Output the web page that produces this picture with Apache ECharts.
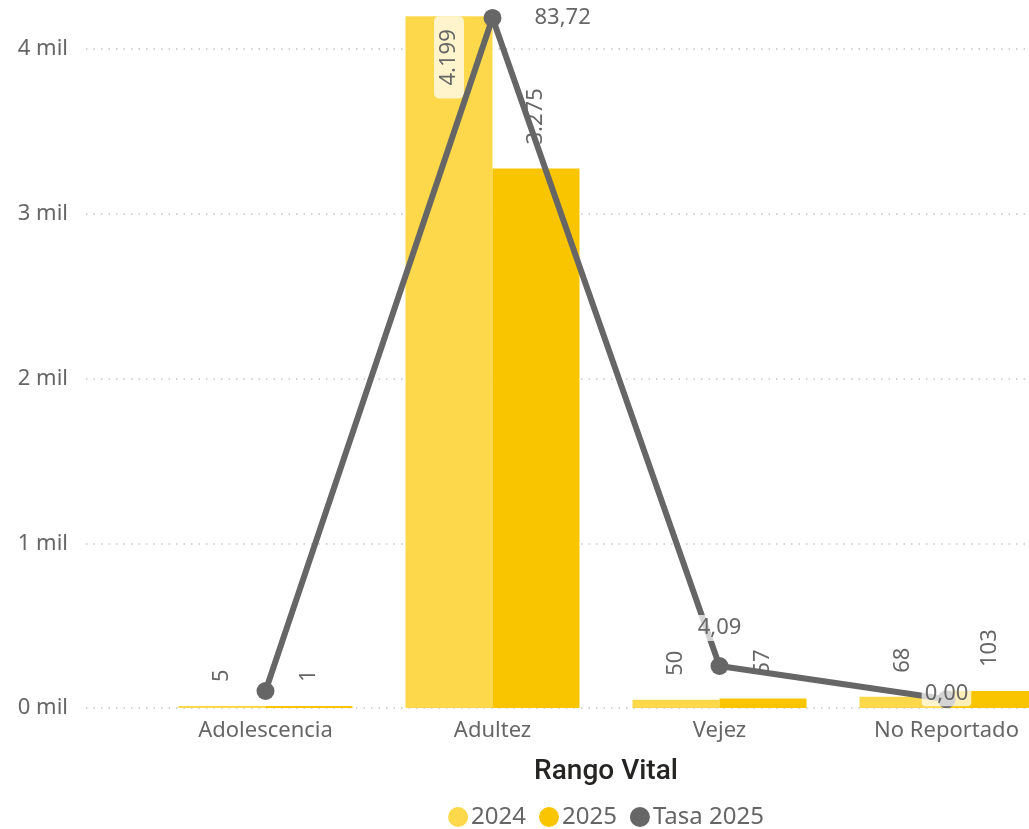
<!DOCTYPE html>
<html>
<head>
<meta charset="utf-8">
<script src="https://cdn.jsdelivr.net/npm/echarts@6.0.0/dist/echarts.min.js"></script>
<style>
  html, body { margin: 0; padding: 0; background: #fff; }
  #chart { width: 1029px; height: 829px; }
</style>
</head>
<body>
<div id="chart"></div>
<script>
// datos
const categories = ['Adolescencia', 'Adultez', 'Vejez', 'No Reportado']
const values2024 = [5, 4199, 50, 68]
const values2025 = [1, 3275, 57, 103]
const tasa2025 = [1.02, 83.72, 4.09, 0.0]
const yTicks = [0, 1000, 2000, 3000, 4000]

const FONT = '"Noto Sans", "Open Sans", sans-serif'
const GRAY = '#666666'
const labelBg = 'rgba(255,255,255,0.72)'

const chart = echarts.init(document.getElementById('chart'))

const fmtInt = v => String(v).replace(/\B(?=(\d{3})+(?!\d))/g, '.')
const fmtDec = v => v.toFixed(2).replace('.', ',')

const barLabel = {
    show: true,
    position: 'top',
    rotate: 90,
    align: 'left',
    verticalAlign: 'middle',
    distance: 20,
    color: GRAY,
    fontFamily: FONT,
    fontSize: 22,
    backgroundColor: labelBg,
    borderRadius: 5,
    padding: [6, 4],
    formatter: p => fmtInt(p.value)
}

// la etiqueta 4.199 no cabe arriba: va dentro de la barra
const data2024 = values2024.map((v, i) => i === 1
    ? { value: v, label: { position: 'insideTop', align: 'right', distance: 0, padding: [4, 13] } }
    : v)

const lineData = tasa2025.map((v, i) => {
    if (i === 0) return { value: v, label: { show: false } }
    if (i === 1) return { value: v, label: { position: 'right', distance: 30 } }
    if (i === 3) return { value: v, label: { position: 'inside', offset: [0, -6] } }
    return { value: v, label: { position: 'top', distance: 16 } }
})

const option = {
    animation: false,
    grid: [
        { left: 86, right: 0, top: 10, bottom: 121, outerBoundsMode: 'none' },
        { left: 152, width: 908, top: 10, bottom: 121, outerBoundsMode: 'none', containLabel: false }
    ],
    xAxis: [
        { gridIndex: 0, type: 'value', min: 0, max: 1, show: false },
        {
            gridIndex: 1,
            type: 'category',
            data: categories,
            name: 'Rango Vital',
            nameLocation: 'middle',
            nameGap: 50,
            nameTextStyle: { color: '#252423', fontSize: 28, fontFamily: 'Roboto, sans-serif', fontWeight: 500 },
            axisLine: { show: false },
            axisTick: { show: false },
            axisLabel: { color: GRAY, fontSize: 22, fontFamily: FONT, margin: 12 }
        }
    ],
    yAxis: [
        {
            gridIndex: 0,
            type: 'value',
            min: 0,
            max: 4237,
            interval: 1000,
            axisLine: { show: false },
            axisTick: { show: false },
            axisLabel: {
                color: GRAY,
                fontSize: 22,
                fontFamily: FONT,
                margin: 18,
                showMaxLabel: false,
                formatter: v => yTicks.includes(v) ? (v / 1000) + ' mil' : ''
            },
            splitLine: {
                show: true,
                showMaxLine: false,
                lineStyle: { color: '#c4c4c4', width: 1.5, type: [1.5, 6] }
            }
        },
        { gridIndex: 1, type: 'value', min: 0, max: 4237, show: false },
        { gridIndex: 1, type: 'value', min: -1.07, max: 84.7, show: false }
    ],
    legend: {
        bottom: -5,
        left: 606,
        itemWidth: 20,
        itemHeight: 20,
        itemGap: 13,
        icon: 'circle',
        textStyle: { color: GRAY, fontSize: 24, fontFamily: FONT, padding: [0, 0, 0, -2] },
        data: ['2024', '2025', 'Tasa 2025']
    },
    series: [
        {
            name: '2024',
            type: 'bar',
            xAxisIndex: 1,
            yAxisIndex: 1,
            data: data2024,
            barWidth: 87,
            barGap: '0%',
            barMinHeight: 2,
            itemStyle: { color: '#FDD84A' },
            label: barLabel
        },
        {
            name: '2025',
            type: 'bar',
            xAxisIndex: 1,
            yAxisIndex: 1,
            data: values2025,
            barWidth: 87,
            barGap: '0%',
            barMinHeight: 2,
            itemStyle: { color: '#F8C500' },
            label: barLabel
        },
        {
            name: 'Tasa 2025',
            type: 'line',
            xAxisIndex: 1,
            yAxisIndex: 2,
            data: lineData,
            symbol: 'circle',
            symbolSize: 18,
            itemStyle: { color: GRAY },
            lineStyle: { color: GRAY, width: 6 },
            z: 3,
            label: {
                show: true,
                color: GRAY,
                fontFamily: FONT,
                fontSize: 22,
                backgroundColor: labelBg,
                borderRadius: 4,
                padding: [2, 3],
                formatter: p => fmtDec(p.value)
            }
        }
    ]
}

chart.setOption(option)

// centrar la leyenda bajo el área de la gráfica
const lg = chart.getModel().getComponent('legend')
const view = chart.getViewOfComponentModel(lg)
const w = view.group.getBoundingRect().width
chart.setOption({ legend: { left: 606 - w / 2 } })
</script>
</body>
</html>
